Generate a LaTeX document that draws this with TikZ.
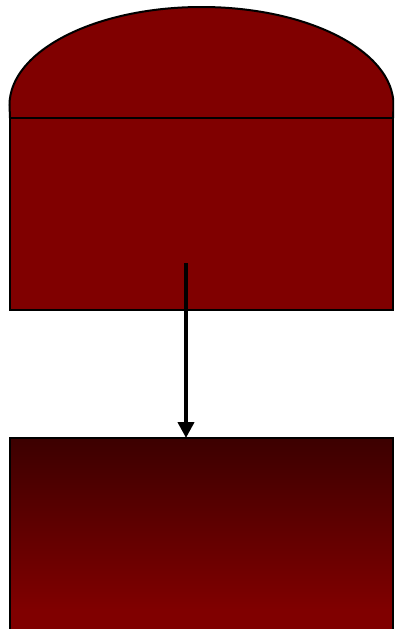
\documentclass[tikz,border=0pt]{standalone}
\usetikzlibrary{arrows.meta}
\definecolor{maroon}{HTML}{800000}
\definecolor{darkmaroon}{HTML}{3C0000}
\tikzset{
  part/.style={draw=black, line width=2pt, fill=maroon},
  flow/.style={draw=black, line width=4pt, -{Triangle[length=16pt,width=16pt]}}
}
\begin{document}
\begin{tikzpicture}[x=1pt,y=-1pt]
  \useasboundingbox (0,0) rectangle (394,629);
  \begin{scope}
    \clip (0,0) rectangle (394,629);
    % dome
    \path[part] (10,118) -- (9.5,105) arc[start angle=180, end angle=360, x radius=192, y radius=98] -- (393,118) -- cycle;
    % upper body
    \path[part] (10,118) rectangle (393,310);
    \coordinate (start) at (186,263);
    % lower block with gradient
    \path[draw=black, line width=2pt, top color=darkmaroon, bottom color=maroon] (10,438) rectangle (393,610);
    \path[fill=maroon] (11,609) rectangle (392,640);
    \draw[black, line width=2pt] (10,609) -- (10,640) (393,609) -- (393,640);
    \coordinate (end) at (186,438);
    \draw[flow] (start) -- (end);
  \end{scope}
\end{tikzpicture}
\end{document}
